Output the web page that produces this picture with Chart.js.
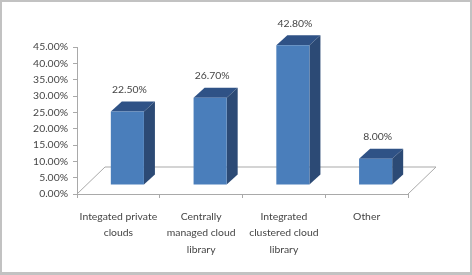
<!DOCTYPE html>
<html>
<head>
<meta charset="utf-8">
<script src="https://cdn.jsdelivr.net/npm/chart.js@4"></script>
<style>
    html, body { margin: 0; padding: 0; background: #fff; }
    #frame {
        position: relative; box-sizing: border-box; width: 472px; height: 275px;
        background: #fff;
        border-style: solid; border-color: #c2c2c2;
        border-width: 2px 2px 3px 2px;
    }
    canvas { position: absolute; left: -2px; top: -2px; filter: blur(0.35px); }
</style>
</head>
<body>
<div id="frame"><canvas id="chart" width="472" height="275"></canvas></div>
<script>
const categories = [
    ['Integated private', 'clouds'],
    ['Centrally', 'managed cloud', 'library'],
    ['Integrated', 'clustered cloud', 'library'],
    'Other'
];
const shares = [22.5, 26.7, 42.8, 8.0];

const textColor = '#444444';
const axisColor = '#a9a9a9';
const fontFamily = 'Lato, sans-serif';
const fontSize = 10.4;

// fake 3D: how far the bars sit back on the floor, and how deep they are
const shift = { x: 9, y: -9 };
const depth = { x: 11, y: -10 };
const floor = { x: 28, y: -27 };

const fake3d = {
    id: 'fake3d',
    beforeDatasetsDraw(chart) {
        const { ctx, chartArea: a } = chart;

        // floor
        ctx.save();
        ctx.strokeStyle = axisColor;
        ctx.lineWidth = 1;
        ctx.beginPath();
        ctx.moveTo(a.left, a.bottom);
        ctx.lineTo(a.left + floor.x, a.bottom + floor.y);
        ctx.lineTo(a.right + floor.x, a.bottom + floor.y);
        ctx.lineTo(a.right, a.bottom);
        ctx.stroke();
        ctx.restore();

        // the bars are drawn moved back, with their top and side faces
        ctx.save();
        ctx.translate(shift.x, shift.y);
        for (const bar of chart.getDatasetMeta(0).data) {
            const l = bar.x - bar.width / 2, r = bar.x + bar.width / 2;
            ctx.fillStyle = '#2f5286';
            ctx.beginPath();
            ctx.moveTo(l, bar.y);
            ctx.lineTo(l + depth.x, bar.y + depth.y);
            ctx.lineTo(r + depth.x, bar.y + depth.y);
            ctx.lineTo(r, bar.y);
            ctx.fill();
            ctx.fillStyle = '#2c4a75';
            ctx.beginPath();
            ctx.moveTo(r, bar.y);
            ctx.lineTo(r + depth.x, bar.y + depth.y);
            ctx.lineTo(r + depth.x, bar.base + depth.y);
            ctx.lineTo(r, bar.base);
            ctx.fill();
        }
    },
    afterDatasetsDraw(chart) {
        const { ctx } = chart;
        ctx.restore();

        // value labels
        ctx.save();
        ctx.fillStyle = textColor;
        ctx.font = fontSize + 'px ' + fontFamily;
        ctx.textAlign = 'center';
        ctx.textBaseline = 'middle';
        chart.getDatasetMeta(0).data.forEach((bar, i) => {
            ctx.fillText(shares[i].toFixed(2) + '%', bar.x + shift.x + 2, bar.y - 31);
        });
        ctx.restore();
    }
};

new Chart(document.getElementById('chart'), {
    type: 'bar',
    data: {
        labels: categories,
        datasets: [{
            data: shares,
            backgroundColor: '#4a7ebb',
            categoryPercentage: 0.8,
            barPercentage: 0.5
        }]
    },
    options: {
        responsive: false,
        animation: false,
        layout: { padding: { left: 0, top: 47, right: 64, bottom: 0 } },
        plugins: { legend: { display: false }, tooltip: { enabled: false } },
        scales: {
            x: {
                afterFit(scale) { scale.height = 81; },
                grid: { drawOnChartArea: false, color: axisColor, tickLength: 4 },
                border: { color: axisColor },
                ticks: {
                    color: textColor, maxRotation: 0, autoSkip: false, padding: 10,
                    font: { family: fontFamily, size: fontSize, lineHeight: 1.6 }
                }
            },
            y: {
                min: 0,
                max: 45,
                afterFit(scale) { scale.width = 77; },
                grid: { drawOnChartArea: false, color: axisColor, tickLength: 4 },
                border: { color: axisColor },
                ticks: {
                    stepSize: 5, color: textColor, padding: 5, autoSkip: false,
                    font: { family: fontFamily, size: fontSize },
                    callback: v => v.toFixed(2) + '%'
                }
            }
        }
    },
    plugins: [fake3d]
});
</script>
</body>
</html>
